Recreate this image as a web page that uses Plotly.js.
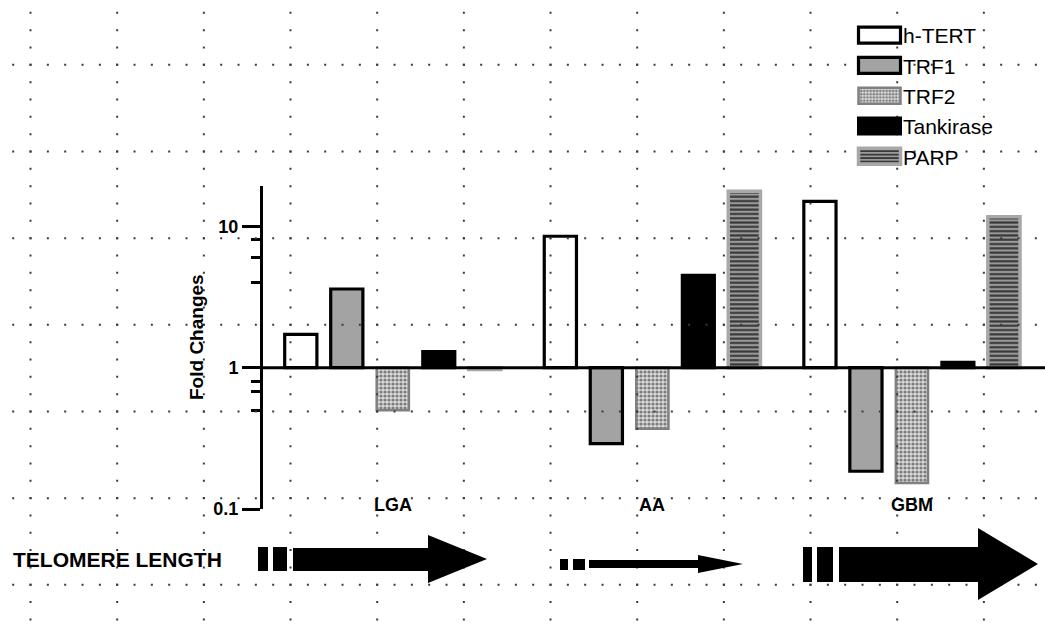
<!DOCTYPE html>
<html><head><meta charset="utf-8">
<script src="https://cdn.plot.ly/plotly-3.0.1.min.js"></script>
<style>html,body{margin:0;padding:0;background:#fff}#chart{width:1045px;height:624px}</style>
</head><body><div id="chart"></div>
<script>
// ---- data ----
const categories = ['LGA', 'AA', 'GBM'];
const seriesNames = ['h-TERT', 'TRF1', 'TRF2', 'Tankirase', 'PARP'];
const hTERT     = [1.72, 8.5, 15.0];
const TRF1      = [3.6, 0.29, 0.185];
const TRF2      = [0.5, 0.37, 0.153];
const Tankirase = [1.3, 4.5, 1.09];
const PARP      = [0.97, 17.7, 11.7];
const yTickVals = [0.1, 1, 10];
const yTickText = ['0.1', '1', '10'];
const yMinorTickVals = [0.5, 0.68, 0.8, 4, 6, 8];
const yTitle = 'Fold Changes';
const bottomLabel = 'TELOMERE LENGTH';

// ---- geometry helpers (figure pixels -> paper) ----
const W = 1045, H = 624;
const M = {l: 263, r: 2, t: 186, b: 115};
const PW = W - M.l - M.r, PH = H - M.t - M.b;
const px = x => (x - M.l) / PW;
const py = y => (H - M.b - y) / PH;

const FONT = 'Liberation Sans, Arial, sans-serif';

const styles = [
  {marker: {color: '#ffffff', line: {color: '#000', width: 3.2}}},
  {marker: {color: '#a3a3a3', line: {color: '#000', width: 3.2}}},
  {marker: {color: '#c8c8c8', line: {color: '#808080', width: 2.5},
            pattern: {shape: '.', fgcolor: '#7c7c7c', bgcolor: '#dadada', size: 4, solidity: 0.5}}},
  {marker: {color: '#000000', line: {color: '#000', width: 3}}},
  {marker: {color: '#9c9c9c', line: {color: '#a8a8a8', width: 3.5},
            pattern: {shape: '-', fgcolor: '#383838', bgcolor: '#9a9a9a', size: 4.3, solidity: 0.5}}}
];
const seriesVals = [hTERT, TRF1, TRF2, Tankirase, PARP];

const data = seriesVals.map((vals, i) => ({
  type: 'bar',
  name: seriesNames[i],
  x: categories,
  base: vals.map(() => 1),
  y: vals.map(v => v - 1),
  marker: styles[i].marker,
  hoverinfo: 'skip'
}));

// ---- decorative dotted grid ----
const shapes = [];
const step = 86.67, sub = 17.333;
for (let k = 0; k < 12; k++) {
  const x = 30.5 + k * step;
  shapes.push({type: 'line', xref: 'paper', yref: 'paper', layer: 'above',
    x0: px(x), x1: px(x), y0: py(12.8 - 1), y1: py(H),
    line: {color: '#3a3a3a', width: 2, dash: '2px,' + (sub - 2) + 'px'}});
}
for (let m = 0; m < 7; m++) {
  const y = 64.8 + m * step;
  shapes.push({type: 'line', xref: 'paper', yref: 'paper', layer: 'above',
    x0: px(13.2 - 1), x1: px(W), y0: py(y), y1: py(y),
    line: {color: '#3a3a3a', width: 2, dash: '2px,' + (sub - 2) + 'px'}});
}
// baseline at fold change 1
shapes.push({type: 'line', xref: 'paper', yref: 'y', layer: 'above',
  x0: 0, x1: px(W), y0: 1, y1: 1, line: {color: '#000', width: 3}});

// telomere arrows (decorative)
function rect(x0, y0, x1, y1) {
  shapes.push({type: 'rect', xref: 'paper', yref: 'paper', layer: 'above',
    x0: px(x0), x1: px(x1), y0: py(y0), y1: py(y1),
    fillcolor: '#000', line: {width: 0}});
}
function arrow(xs, ys0, ys1, xh, yh0, yh1, xt, yt) {
  const pts = [[xs, ys0], [xh, ys0], [xh, yh0], [xt, yt], [xh, yh1], [xh, ys1], [xs, ys1]];
  const path = 'M' + pts.map(p => px(p[0]) + ',' + py(p[1])).join('L') + 'Z';
  shapes.push({type: 'path', xref: 'paper', yref: 'paper', layer: 'above', path: path,
    fillcolor: '#000', line: {width: 0}});
}
rect(258, 547, 268, 571); rect(273, 547, 287, 571);
arrow(293, 548, 571, 428, 535, 583, 487, 559);
rect(560, 559, 568, 570); rect(573, 559, 585, 570);
arrow(589, 560, 568, 698, 555, 573, 743, 564);
rect(803, 547, 812, 582); rect(817, 547, 833, 582);
arrow(839, 547, 582, 978, 528, 600, 1038, 564);

const annotations = categories.map(c => ({
  xref: 'x', yref: 'paper', x: c, y: py(505), text: c, showarrow: false,
  xanchor: 'center', yanchor: 'middle',
  font: {family: FONT, size: 18, weight: 'bold', color: '#000'}
}));
annotations.push({xref: 'paper', yref: 'paper', x: px(196), y: py(337), text: yTitle,
  textangle: -90, showarrow: false, xanchor: 'center', yanchor: 'middle',
  font: {family: FONT, size: 19, weight: 'bold', color: '#000'}});
annotations.push({xref: 'paper', yref: 'paper', x: px(117.5), y: py(559), text: bottomLabel,
  showarrow: false, xanchor: 'center', yanchor: 'middle',
  font: {family: FONT, size: 21, weight: 'bold', color: '#000'}});

const layout = {
  width: W, height: H,
  margin: M,
  paper_bgcolor: '#fff', plot_bgcolor: 'rgba(0,0,0,0)',
  barmode: 'group', bargap: 0.114, bargroupgap: 0.3,
  showlegend: true,
  legend: {x: px(848), y: py(15), xanchor: 'left', yanchor: 'top',
    bgcolor: 'rgba(0,0,0,0)', itemwidth: 45,
    font: {family: FONT, size: 21, color: '#000'}},
  xaxis: {type: 'category', range: [-0.5, 2.505], showline: false, showgrid: false,
    zeroline: false, showticklabels: false, ticks: ''},
  yaxis: {type: 'log', range: [-1, 1.285], showline: true, linewidth: 3, linecolor: '#000',
    showgrid: false, zeroline: false, ticks: 'outside', ticklen: 18, tickwidth: 3, tickcolor: '#000',
    tickmode: 'array', tickvals: yTickVals, ticktext: yTickText,
    tickfont: {family: FONT, size: 18, weight: 'bold', color: '#000'},
    minor: {tickmode: 'array', tickvals: yMinorTickVals, ticks: 'outside', ticklen: 9,
      tickwidth: 3, tickcolor: '#000', showgrid: false}},
  shapes: shapes,
  annotations: annotations
};

Plotly.newPlot('chart', data, layout, {staticPlot: true, displayModeBar: false}).then(gd => {
  gd.querySelectorAll('.legend .legendpoints path').forEach(p => p.setAttribute('d', 'M25,8H-17V-8H25Z'));
});
</script></body></html>
